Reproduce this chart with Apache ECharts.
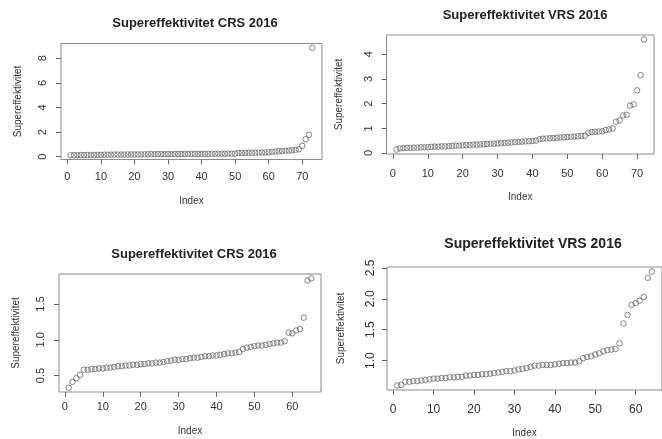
<!DOCTYPE html>
<html><head><meta charset="utf-8">
<script src="https://cdn.jsdelivr.net/npm/echarts@6/dist/echarts.min.js"></script>
<style>html,body{margin:0;padding:0;background:#fff}#c{width:662px;height:439px}</style>
</head><body><div id="c"></div>
<script>
// ---- data ----
const titles = ['Supereffektivitet CRS 2016', 'Supereffektivitet VRS 2016', 'Supereffektivitet CRS 2016', 'Supereffektivitet VRS 2016'];
const xName = 'Index';
const yName = 'Supereffektivitet';

const crsTop = [0.12,0.12,0.13,0.13,0.13,0.14,0.14,0.14,0.15,0.15,
  0.16,0.16,0.16,0.17,0.17,0.17,0.17,0.18,0.18,0.18,
  0.18,0.18,0.19,0.2,0.2,0.2,0.21,0.21,0.21,0.21,
  0.21,0.22,0.22,0.22,0.22,0.22,0.23,0.23,0.23,0.23,
  0.23,0.23,0.24,0.24,0.24,0.24,0.24,0.25,0.25,0.25,
  0.3,0.31,0.31,0.32,0.32,0.33,0.33,0.34,0.34,0.35,
  0.4,0.42,0.44,0.46,0.48,0.5,0.52,0.55,0.6,0.88,
  1.42,1.78,8.85];
const vrsTop = [0.14,
  0.19,0.2,0.21,0.21,0.22,0.22,0.23,0.23,0.24,
  0.25,0.26,0.26,0.27,0.27,0.28,0.29,0.3,0.3,0.31,
  0.32,0.33,0.34,0.34,0.35,0.36,0.37,0.38,0.38,0.39,
  0.4,0.41,0.42,0.43,0.44,0.45,0.46,0.47,0.48,0.49,0.5,
  0.56,0.58,0.59,0.6,0.61,0.62,0.63,0.64,0.65,0.66,0.67,0.68,0.69,0.7,
  0.82,0.85,0.86,0.87,0.88,
  0.93,0.96,1.0,
  1.27,1.32,1.52,1.55,1.92,1.97,2.54,3.15,4.6];
const crsBottom = [0.33,0.41,0.46,0.51,0.58,
  0.58,0.59,0.59,0.6,0.6,0.61,0.61,0.62,0.63,0.63,
  0.64,0.64,0.65,0.65,0.66,0.66,0.67,0.67,0.68,0.68,
  0.69,0.7,0.71,0.72,0.72,0.73,0.73,0.74,0.75,0.75,
  0.76,0.77,0.77,0.78,0.78,0.79,0.8,0.81,0.81,0.82,0.83,
  0.87,0.89,0.9,0.91,0.92,0.92,0.93,0.94,0.95,0.96,0.96,0.98,
  1.1,1.09,1.13,1.15,1.31,1.83,1.86];
const vrsBottom = [0.6,0.61,
  0.66,0.66,0.67,0.67,0.68,0.69,0.7,0.71,
  0.71,0.72,0.72,0.73,0.73,0.74,0.74,0.76,0.76,0.77,
  0.77,0.78,0.78,0.79,0.8,0.81,0.82,0.83,0.83,0.84,
  0.86,0.87,0.88,0.9,0.92,
  0.92,0.93,0.93,0.93,0.94,0.95,0.96,0.96,0.97,0.97,0.99,
  1.04,1.06,1.07,1.1,1.12,1.15,1.17,1.18,1.19,
  1.28,1.6,1.74,1.9,1.93,1.97,2.03,2.34,2.44];

const xTicks = [[0,10,20,30,40,50,60,70],[0,10,20,30,40,50,60,70],[0,10,20,30,40,50,60],[0,10,20,30,40,50,60]];
const yTicks = [[0,2,4,6,8],[0,1,2,3,4],[0.5,1.0,1.5],[1.0,1.5,2.0,2.5]];
const series = [crsTop, vrsTop, crsBottom, vrsBottom];

// ---- layout ----
const layout = [
  {left:61, top:43.5, width:261, height:116, tx:190, ty:12, fs:13, lfs:11, xm:12, xg:37, ym:13, yg:38},
  {left:386.5, top:35, width:267.5, height:119, tx:520, ty:3.5, fs:13, lfs:11, xm:14, xg:38.5, ym:12, yg:42.5},
  {left:59, top:274, width:262, height:118, tx:189, ty:243, fs:13, lfs:11, xm:9, xg:34, ym:13, yg:38},
  {left:387, top:267, width:279, height:123, tx:528, ty:232.5, fs:14, lfs:12, xm:14, xg:38, ym:10, yg:41}
];
const decimals = [0,0,1,1];

function rng(arr) {
  const lo = Math.min(...arr), hi = Math.max(...arr);
  const e = (hi - lo) * 0.04;
  return [lo - e, hi + e];
}

const font = 'Liberation Sans, Arial, sans-serif';
const opt = {backgroundColor:'#fff', animation:false, title:[], grid:[], xAxis:[], yAxis:[], series:[]};
series.forEach((arr, i) => {
  const L = layout[i];
  const yr = rng(arr);
  const n = arr.length;
  const xe = (n - 1) * 0.04;
  opt.title.push({text: titles[i], left: L.tx, top: L.ty, textAlign:'center',
    textStyle:{fontFamily:font, fontSize:L.fs, fontWeight:'bold', color:'#222'}});
  opt.grid.push({left:L.left, top:L.top, width:L.width, height:L.height, show:true,
    borderColor:'#8c8c8c', borderWidth:1, backgroundColor:'transparent'});
  const d = decimals[i];
  opt.xAxis.push({type:'value', gridIndex:i, min:1 - xe, max:n + xe, position:'bottom',
    name:xName, nameLocation:'middle', nameGap:L.xg,
    nameTextStyle:{fontFamily:font, fontSize:10, color:'#333'},
    axisLine:{show:false, onZero:false}, splitLine:{show:false},
    axisTick:{show:true, customValues:xTicks[i], length:5, inside:false, lineStyle:{color:'#666'}},
    axisLabel:{customValues:xTicks[i], margin:L.xm, fontFamily:font, fontSize:L.lfs, color:'#333'}});
  opt.yAxis.push({type:'value', gridIndex:i, min:yr[0], max:yr[1], position:'left',
    name:yName, nameLocation:'middle', nameGap:L.yg, nameRotate:90,
    nameTextStyle:{fontFamily:font, fontSize:10, color:'#333'},
    axisLine:{show:false, onZero:false}, splitLine:{show:false},
    axisTick:{show:true, customValues:yTicks[i], length:5, inside:false, lineStyle:{color:'#666'}},
    axisLabel:{customValues:yTicks[i], rotate:90, margin:L.ym, fontFamily:font, fontSize:L.lfs, color:'#333',
      formatter: v => Number(v).toFixed(d)}});
  opt.series.push({type:'scatter', xAxisIndex:i, yAxisIndex:i, symbol:'circle', symbolSize:5.5,
    itemStyle:{color:'rgba(255,255,255,0)', borderColor:'#666', borderWidth:1},
    data: arr.map((v, k) => [k + 1, v])});
});
const chart = echarts.init(document.getElementById('c'), null, {renderer:'canvas'});
chart.setOption(opt);
</script>
</body></html>
